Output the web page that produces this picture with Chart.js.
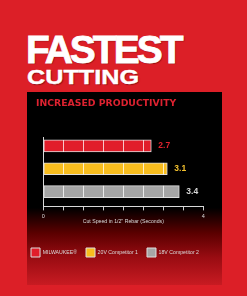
<!DOCTYPE html>
<html>
<head>
<meta charset="utf-8">
<script src="https://cdn.jsdelivr.net/npm/chart.js@4.4.0/dist/chart.umd.min.js"></script>
<style>
  html, body { margin: 0; padding: 0; }
  body { width: 247px; height: 296px; background: #dc1f27; position: relative; overflow: hidden; font-family: "Liberation Sans", Arial, sans-serif; }
  .head1 { position: absolute; left: 26px; top: 30px; font-size: 39px; line-height: 39px; font-weight: bold; color: #fff; letter-spacing: -3px; -webkit-text-stroke: 0.8px #fff; text-shadow: 1px 1px 1px rgba(90,0,0,0.6); white-space: nowrap; }
  .head2 { position: absolute; left: 27px; top: 65.5px; font-size: 21px; line-height: 21px; font-weight: bold; color: #fff; -webkit-text-stroke: 0.4px #fff; transform: scaleX(1.2); transform-origin: left top; text-shadow: 1px 1px 1px rgba(90,0,0,0.6); white-space: nowrap; }
  .panel { position: absolute; left: 27px; top: 92px; width: 195px; height: 193px;
    background: linear-gradient(to bottom, #000 0%, #000 60%, #5a0000 73%, #9a0c12 86%, #c81b22 100%); }
  #chart { position: absolute; left: 27px; top: 92px; }
</style>
</head>
<body>
<div class="head1">FASTEST</div>
<div class="head2">CUTTING</div>
<div class="panel"></div>
<canvas id="chart" width="195" height="180"></canvas>
<script>
const categories = ['MILWAUKEE®', '20V Competitor 1', '18V Competitor 2'];
const cutSeconds = [2.7, 3.1, 3.4];
const barColors = ['#e11d2a', '#f8bd1e', '#a6a6a6'];
const valueColors = ['#e0222e', '#f3c12e', '#d6d6d6'];
const xTicks = [0, 0.5, 1, 1.5, 2, 2.5, 3, 3.5, 4];
const xLabels = { 0: '0', 4: '4' };

const sans = '"Liberation Sans", Arial, sans-serif';

// white cell lines inside each bar + the value next to it
const barDecor = {
    id: 'barDecor',
    afterLayout(chart) {
        // legend sits a little left of centre in the original
        chart.legend.left -= 14;
        chart.legend.right -= 14;
    },
    afterDatasetsDraw(chart) {
        const ctx = chart.ctx;
        const xs = chart.scales.x;
        chart.data.datasets.forEach((ds, di) => {
            chart.getDatasetMeta(di).data.forEach(bar => {
                const top = bar.y - bar.height / 2;
                const left = Math.min(bar.base, bar.x);
                const right = Math.max(bar.base, bar.x);
                ctx.save();
                ctx.beginPath();
                ctx.rect(left, top, right - left, bar.height);
                ctx.clip();
                ctx.strokeStyle = 'rgba(255,255,255,0.75)';
                ctx.lineWidth = 1;
                xTicks.forEach(t => {
                    const px = Math.round(xs.getPixelForValue(t)) + 0.5;
                    ctx.beginPath();
                    ctx.moveTo(px, top);
                    ctx.lineTo(px, top + bar.height);
                    ctx.stroke();
                });
                ctx.restore();

                ctx.save();
                ctx.fillStyle = valueColors[di];
                ctx.font = 'bold 8.5px ' + sans;
                ctx.textAlign = 'left';
                ctx.textBaseline = 'middle';
                ctx.fillText(ds.data[0].x.toFixed(1), right + 7, bar.y);
                ctx.restore();
            });
        });
    }
};

new Chart(document.getElementById('chart'), {
    type: 'bar',
    data: {
        datasets: categories.map((label, i) => ({
            label: label,
            data: [{ x: cutSeconds[i], y: i }],
            backgroundColor: barColors[i],
            borderColor: '#dedede',
            borderWidth: 1,
            borderSkipped: false
        }))
    },
    options: {
        indexAxis: 'y',
        responsive: false,
        animation: false,
        grouped: false,
        categoryPercentage: 1,
        barPercentage: 1,
        maxBarThickness: 12,
        layout: { padding: { left: 9, right: 0, top: 0, bottom: 5 } },
        scales: {
            x: {
                type: 'linear',
                min: 0,
                max: 4,
                afterBuildTicks: s => { s.ticks = xTicks.map(v => ({ value: v })); },
                ticks: {
                    color: '#dcdcdc',
                    font: { family: sans, size: 5.5, lineHeight: 1 },
                    padding: 3.25,
                    maxRotation: 0,
                    autoSkip: false,
                    callback: v => xLabels[v] || ''
                },
                grid: { drawOnChartArea: false, color: '#cfcfcf', tickLength: 4 },
                border: { color: '#d8d8d8', width: 1 },
                title: {
                    display: true,
                    text: 'Cut Speed in 1/2" Rebar (Seconds)',
                    color: '#dcdcdc',
                    font: { family: sans, size: 5.2, lineHeight: 1 },
                    padding: { top: -3.6, bottom: 15 }
                }
            },
            y: {
                type: 'linear',
                reverse: true,
                offset: false,
                min: -0.35,
                max: 2.65,
                afterBuildTicks: s => { s.ticks = categories.map((c, i) => ({ value: i })); },
                afterFit: s => { s.width = 7.3; },
                ticks: { display: false },
                grid: { display: false },
                border: { color: '#d8d8d8', width: 1 }
            },
            yRight: {
                type: 'linear',
                position: 'right',
                afterFit: s => { s.width = 18.7; },
                ticks: { display: false },
                grid: { display: false },
                border: { display: false }
            }
        },
        plugins: {
            title: {
                display: true,
                text: 'INCREASED PRODUCTIVITY',
                align: 'start',
                color: '#de2230',
                font: { family: '"DejaVu Sans", sans-serif', size: 9.3, weight: 'bold' },
                padding: { top: 6.4, bottom: 28.4 }
            },
            legend: {
                position: 'bottom',
                labels: {
                    color: '#dcdcdc',
                    boxWidth: 9,
                    boxHeight: 9,
                    padding: 9,
                    font: { family: sans, size: 5.2 }
                }
            },
            tooltip: { enabled: false }
        }
    },
    plugins: [barDecor]
});
</script>
</body>
</html>
